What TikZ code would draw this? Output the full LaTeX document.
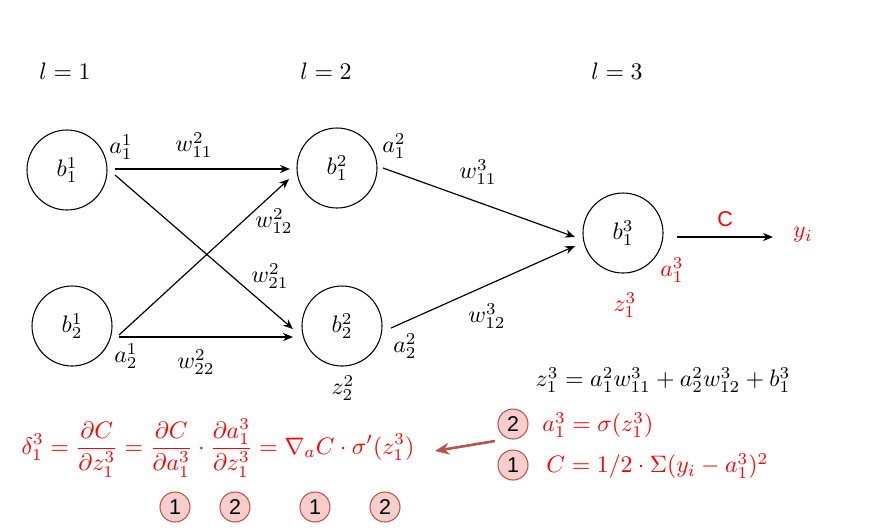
\documentclass[tikz,border=0pt]{standalone}
\usepackage{fontspec}
\newfontfamily\helv{Liberation Sans}
\usetikzlibrary{arrows.meta}
\definecolor{pinkfill}{HTML}{F8CECC}
\definecolor{pinkline}{HTML}{B85450}
\begin{document}
\begin{tikzpicture}[x=0.42pt,y=-0.42pt,
  neuron/.style={circle,draw,line width=0.45pt,minimum size=33.6pt,inner sep=0pt},
  conn/.style={-{Stealth[length=4.2pt,width=3.4pt]},line width=0.5pt},
  lbl/.style={inner sep=0pt},
  rlbl/.style={inner sep=0pt,text=red},
  badge/.style={circle,draw=pinkline,fill=pinkfill,line width=0.45pt,minimum size=12.6pt,inner sep=0pt,font=\helv\fontsize{9}{10}\selectfont},
  bigarrow/.style={-{Stealth[length=6pt,width=5pt]},draw=pinkline,line width=1.1pt}
]
\useasboundingbox (0,0) rectangle (872,531);
% layer labels
\node[lbl] (l1) at (65,71) {$l=1$};
\node[lbl] (l2) at (326,71) {$l=2$};
\node[lbl] (l3) at (617,71) {$l=3$};
% neurons
\node[neuron] (b11) at (67,170) {$b_1^1$};
\node[neuron] (b21) at (72,326) {$b_2^1$};
\node[neuron] (b12) at (337,168) {$b_1^2$};
\node[neuron] (b22) at (342,326) {$b_2^2$};
\node[neuron] (b13) at (623,233) {$b_1^3$};
% endpoints
\coordinate (s1) at (115,169); \coordinate (e1) at (290,169);
\coordinate (s2) at (115,175); \coordinate (e2) at (293,329);
\coordinate (s3) at (119,335); \coordinate (e3) at (289,179);
\coordinate (s4) at (119,337); \coordinate (e4) at (293,337);
\coordinate (s5) at (383,168); \coordinate (e5) at (575,237);
\coordinate (s6) at (391,328); \coordinate (e6) at (575,246);
\coordinate (s7) at (677,237); \coordinate (e7) at (773,237);
\draw[conn] (s1) -- (e1);
\draw[conn] (s2) -- (e2);
\draw[conn] (s3) -- (e3);
\draw[conn] (s4) -- (e4);
\draw[conn] (s5) -- (e5);
\draw[conn] (s6) -- (e6);
\draw[conn] (s7) -- (e7);
% labels
\node[lbl] (a11) at (121,147) {$a_1^1$};
\node[lbl] (w211) at (194,145) {$w_{11}^2$};
\node[lbl] (w212) at (274,221) {$w_{12}^2$};
\node[lbl] (w221) at (270,276) {$w_{21}^2$};
\node[lbl] (a21) at (126,356) {$a_2^1$};
\node[lbl] (w222) at (196,362) {$w_{22}^2$};
\node[lbl] (a12) at (394,146) {$a_1^2$};
\node[lbl] (a22) at (405,346) {$a_2^2$};
\node[lbl] (z22) at (343,388) {$z_2^2$};
\node[lbl] (w311) at (478,172) {$w_{11}^3$};
\node[lbl] (w312) at (487,316) {$w_{12}^3$};
\node[rlbl] (a13) at (672,270) {$a_1^3$};
\node[rlbl] (z13) at (625,305) {$z_1^3$};
\node[rlbl,font=\helv\fontsize{9}{10}\selectfont] (cl) at (725,219) {C};
\node[rlbl] (yi) at (803,235) {$y_i$};
% equations right
\node[lbl] (eqz) at (663,380) {$z_1^3=a_1^2w_{11}^3+a_2^2w_{12}^3+b_1^3$};
\node[badge] (r2) at (513,424) {2};
\node[badge] (r1) at (513,465) {1};
\node[rlbl,anchor=west] (eqa) at (542,425) {$a_1^3=\sigma(z_1^3)$};
\node[rlbl,anchor=west] (eqc) at (546,466) {$C=1/2\cdot\Sigma(y_i-a_1^3)^2$};
% arrow
\coordinate (as) at (495,441); \coordinate (ae) at (435,451);
\draw[bigarrow] (as) -- (ae);
% equation left
\node[rlbl] (eqd) at (218,448) {$\displaystyle\delta_1^3=\frac{\partial C}{\partial z_1^3}=\frac{\partial C}{\partial a_1^3}\cdot\frac{\partial a_1^3}{\partial z_1^3}=\nabla_a C\cdot\sigma'(z_1^3)$};
\node[badge] (c1) at (175,507) {1};
\node[badge] (c2) at (235,507) {2};
\node[badge] (c3) at (315,507) {1};
\node[badge] (c4) at (385,507) {2};
\end{tikzpicture}
\end{document}
